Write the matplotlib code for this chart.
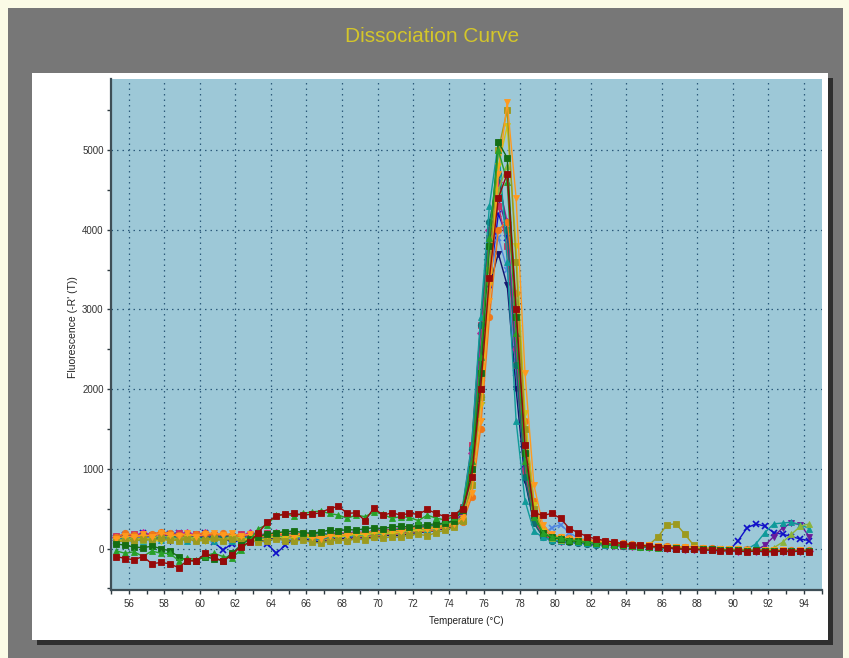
import matplotlib
matplotlib.use("Agg")
import matplotlib.pyplot as plt
from matplotlib.patches import Rectangle
from matplotlib.ticker import MultipleLocator

W, H = 849, 658

title = "Dissociation Curve"
x_label = "Temperature (°C)"
y_label = "Fluorescence (-R' (T))"

x_ticks = [56, 58, 60, 62, 64, 66, 68, 70, 72, 74, 76, 78, 80, 82, 84, 86, 88, 90, 92, 94]
y_ticks = [0, 1000, 2000, 3000, 4000, 5000]

temperature = [55.3, 55.8, 56.3, 56.8, 57.3, 57.8, 58.3, 58.8, 59.3, 59.8,
               60.3, 60.8, 61.3, 61.8, 62.3, 62.8, 63.3, 63.8, 64.3, 64.8,
               65.3, 65.8, 66.3, 66.8, 67.3, 67.8, 68.3, 68.8, 69.3, 69.8,
               70.3, 70.8, 71.3, 71.8, 72.3, 72.8, 73.3, 73.8, 74.3, 74.8,
               75.3, 75.8, 76.3, 76.8, 77.3, 77.8, 78.3, 78.8, 79.3, 79.8,
               80.3, 80.8, 81.3, 81.8, 82.3, 82.8, 83.3, 83.8, 84.3, 84.8,
               85.3, 85.8, 86.3, 86.8, 87.3, 87.8, 88.3, 88.8, 89.3, 89.8,
               90.3, 90.8, 91.3, 91.8, 92.3, 92.8, 93.3, 93.8, 94.3]

well_blue_x = [130,170,150,190,160,140,180,200,170,150,190,80,-20,60,120,150,130,60,-60,40,
               120,140,170,150,190,170,160,180,200,190,210,200,230,220,240,260,250,280,300,
               420,900,2000,3300,4200,3900,2400,1000,380,190,130,
               110,100,90,80,70,60,50,40,30,25,20,10,5,0,-5,-10,-10,-15,-20,-20,
               100,260,310,280,200,180,150,120,100]
well_lightblue_x = [100,130,110,150,120,140,110,130,150,120,140,110,130,100,120,140,110,130,150,120,
                    100,130,110,90,120,140,130,150,140,160,170,180,170,200,210,220,240,260,290,
                    420,1000,2300,3400,3900,3500,2200,900,330,180,260,
                    300,200,130,100,80,60,50,40,35,30,25,20,15,10,5,0,-5,-10,-10,-15,
                    -20,-20,-25,-20,-25,-30,-25,-30,-30]
well_navy = [90,120,100,140,110,130,100,120,140,110,130,100,120,90,110,130,100,120,140,110,
             90,120,100,80,110,130,120,140,130,150,160,170,160,190,200,210,230,250,280,
             400,1000,2200,3300,3700,3300,2000,850,320,160,110,
             90,80,70,60,55,50,40,35,30,25,20,15,10,5,0,-5,-10,-10,-15,-20,
             -20,-25,-20,-25,-30,-25,-30,-30,-25]
well_purple = [110,150,130,170,140,160,130,150,170,140,160,130,150,120,140,160,130,150,170,140,
               120,150,130,110,140,160,150,170,160,180,190,200,190,220,230,240,260,280,310,
               450,1100,2500,3800,4400,4000,2500,1000,380,180,120,
               100,90,80,70,60,50,45,40,35,30,25,20,15,10,5,0,-5,-10,-15,-20,
               -20,-25,-20,40,150,260,320,300,150]
well_magenta = [140,180,160,200,170,190,160,180,200,170,190,160,180,150,170,190,160,180,200,170,
                150,180,160,140,170,190,180,200,190,210,220,230,220,250,260,270,290,310,340,
                500,1200,2700,4000,4600,4100,2500,1000,360,170,120,
                100,90,80,70,60,55,50,40,35,30,25,20,10,5,0,-5,-10,-10,-15,-20,
                -25,-20,-25,-30,-25,-30,-30,-35,-30]
well_crimson = [160,140,180,150,170,140,160,190,160,180,150,170,140,160,180,150,170,190,160,180,
                200,170,190,160,180,200,190,210,200,220,230,240,250,260,280,270,290,320,350,
                520,1300,2800,3900,4300,3800,2300,950,350,170,120,
                100,90,80,70,60,50,40,35,30,25,20,15,10,5,0,-5,-10,-10,-15,-20,
                -20,-25,-25,-30,-25,-30,-30,-35,-30]
well_darkteal = [130,160,140,170,150,130,160,140,170,150,130,160,140,170,150,130,160,180,150,170,
                 190,160,180,200,170,190,180,200,190,210,220,230,240,250,260,280,290,310,340,
                 520,1250,2800,4100,4700,4000,2300,900,320,150,100,
                 90,80,70,60,50,45,40,35,30,25,20,15,10,5,0,-5,-10,-10,-15,-20,
                 -20,-25,-30,-25,-30,-35,-30,-35,-35]
well_darkorange = [150,190,170,140,180,210,190,170,150,180,200,170,190,160,150,120,140,160,180,150,
                   170,190,160,130,100,120,90,140,160,150,170,190,180,200,220,210,240,260,290,
                   330,650,1500,2900,4000,4100,3200,1600,600,250,160,
                   140,130,120,110,100,90,80,70,60,50,40,35,30,25,20,15,10,5,0,-5,
                   -10,-10,-15,-15,-20,-20,-15,-20,-20]
well_teal = [100,140,120,90,130,110,150,120,100,140,110,90,130,100,120,150,110,130,160,140,
             120,150,130,110,140,160,150,170,160,190,180,200,210,220,230,250,270,300,340,
             550,1300,2900,4300,5100,3600,1600,600,220,140,110,
             100,90,80,70,60,50,45,40,35,30,25,20,15,10,5,0,-5,-10,-15,-20,
             -20,-10,60,200,310,320,330,300,250]
well_olivegreen = [120,100,140,110,130,160,140,120,150,130,110,140,120,150,130,110,140,160,130,150,
                   170,140,160,180,150,170,160,190,180,200,190,210,230,220,250,260,280,300,330,
                   400,850,1900,3400,4500,4800,3100,1300,450,200,130,
                   110,100,90,80,70,60,50,40,35,30,25,20,15,10,5,0,-5,-10,-10,-15,
                   -20,-20,-25,-20,10,80,180,280,310]
well_yellow = [90,110,100,130,110,90,120,100,130,110,90,120,100,130,110,120,100,130,150,120,
               140,160,130,150,170,140,160,180,170,190,200,190,210,230,220,240,260,280,310,
               360,800,1800,3300,4800,5300,3800,1700,550,220,140,
               120,110,100,90,80,70,60,50,40,35,30,25,20,15,10,5,0,-5,-10,-10,
               -15,-20,-20,-25,-20,-25,-30,-25,-30]
well_olive = [80,100,90,120,100,130,110,100,120,90,110,130,100,120,90,110,80,100,120,100,
              90,110,80,70,90,110,100,120,110,140,130,150,140,170,180,160,200,230,270,
              350,800,1900,3500,5000,5500,3600,1500,500,200,140,
              120,100,90,80,70,60,50,40,30,30,50,150,300,310,180,40,0,-10,-15,-20,
              -20,-25,-20,-25,-30,-30,-25,-30,-30]
well_orange = [120,160,140,180,150,200,170,160,190,150,180,200,170,190,160,180,150,170,200,180,
               160,190,150,120,160,180,170,200,190,220,210,230,220,250,260,240,270,290,310,
               380,700,1600,3100,4700,5600,4400,2200,800,300,180,
               140,120,110,100,90,80,70,60,50,45,40,30,25,20,15,10,5,0,-5,-10,
               -10,-15,-20,-15,-20,-20,-25,-20,-25]
well_darkgreen = [60,40,20,10,30,0,-30,-100,-150,-150,-100,-130,-150,-60,40,120,150,180,200,210,
                  220,200,190,210,230,220,240,230,250,260,250,270,280,270,290,300,310,320,350,
                  480,1000,2200,3800,5100,4900,2900,1200,420,190,140,
                  120,100,90,80,70,60,50,40,35,30,20,15,10,5,0,-5,-10,-10,-15,-20,
                  -20,-25,-20,-25,-30,-30,-25,-30,-30]
well_green = [-30,-60,-40,-100,-30,-60,-60,-150,-120,-140,-90,-60,-100,-120,-20,100,250,300,420,430,
              410,440,460,470,440,420,380,420,400,460,430,380,400,390,350,420,380,360,400,
              520,1100,2400,3900,5000,4600,2700,1100,400,200,150,
              130,110,100,80,70,60,50,40,30,25,20,10,5,0,-5,-10,-10,-15,-20,-20,
              -20,-25,-30,-25,-30,-30,-25,-30,-30]
well_red = [-100,-125,-140,-100,-190,-175,-190,-240,-150,-160,-60,-110,-160,-80,25,80,200,330,410,430,
            440,420,430,450,500,530,440,450,350,510,415,450,420,440,430,490,440,400,420,
            500,900,2000,3400,4400,4700,3000,1300,450,415,440,
            380,250,200,150,120,100,80,60,50,40,30,20,10,0,-10,-10,-20,-20,-30,-30,
            -30,-40,-30,-40,-40,-30,-40,-30,-40]

series = [
    (well_blue_x, "#1010C8", "x"),
    (well_lightblue_x, "#4F86E0", "x"),
    (well_navy, "#14146E", "v"),
    (well_purple, "#6A1A9A", "v"),
    (well_magenta, "#C8189A", "D"),
    (well_crimson, "#C83264", "s"),
    (well_darkteal, "#0E6E6E", "o"),
    (well_darkorange, "#F07818", "o"),
    (well_teal, "#109A9A", "^"),
    (well_olivegreen, "#8CB43C", "^"),
    (well_yellow, "#D2C214", "v"),
    (well_olive, "#9C9A1E", "s"),
    (well_orange, "#FF9A1E", "v"),
    (well_darkgreen, "#146E14", "s"),
    (well_green, "#28A028", "^"),
    (well_red, "#960A0A", "s"),
]

fig = plt.figure(figsize=(W / 100, H / 100), dpi=100)
fig.patch.set_facecolor("#FBFBE6")


def px_rect(x0, y0, x1, y1, color, z):
    fig.add_artist(Rectangle((x0 / W, 1 - y1 / H), (x1 - x0) / W, (y1 - y0) / H,
                             transform=fig.transFigure, facecolor=color,
                             edgecolor="none", zorder=z))


px_rect(8, 8, 843, 658, "#777777", -10)
px_rect(37, 78, 833, 645, "#2E2E2E", -9)
px_rect(32, 73, 828, 640, "#FFFFFF", -8)

ax = fig.add_axes([111 / W, 1 - 590 / H, 710.7 / W, 511 / H])
ax.set_facecolor("#9DC8D7")
ax.set_zorder(1)

for vals, col, mk in series:
    hollow = False
    ax.plot(temperature, vals, color=col, lw=1.0, marker=mk,
            ms=4.6 if mk != "D" else 3.6,
            mew=1.2 if mk == "x" else 0.6,
            mec=col, mfc=col, clip_on=True)

ax.set_xlim(55, 95)
ax.set_ylim(-520, 5890)
ax.set_xticks(x_ticks)
ax.set_xticklabels([str(t) for t in x_ticks])
ax.set_yticks(y_ticks)
ax.set_yticklabels([str(t) for t in y_ticks])
ax.xaxis.set_minor_locator(MultipleLocator(1))
ax.yaxis.set_minor_locator(MultipleLocator(500))

ax.grid(which="major", linestyle=(0, (1.2, 3.2)), color="#2C5A7A", linewidth=0.9)
ax.set_axisbelow(True)

for s in ("top", "right"):
    ax.spines[s].set_visible(False)
for s in ("left", "bottom"):
    ax.spines[s].set_color("#3E4E56")
    ax.spines[s].set_linewidth(1.6)

ax.tick_params(which="both", direction="out", length=2.8, width=1.0, color="#2E3A40",
               labelsize=7, labelcolor="#333333", pad=2.5)
ax.tick_params(axis="x", which="both", pad=4)
for lbl in ax.get_xticklabels() + ax.get_yticklabels():
    lbl.set_fontfamily("Liberation Sans")

fig.text(432 / W, 1 - 36 / H, title, ha="center", va="center", fontsize=15,
         color="#D4C62A", family="Liberation Sans")
fig.text(466 / W, 1 - 621 / H, x_label, ha="center", va="center", fontsize=7,
         color="#222222", family="Liberation Sans")
fig.text(73 / W, 1 - 327 / H, y_label, ha="center", va="center", fontsize=7.5,
         rotation=90, color="#222222", family="Liberation Sans")

fig.savefig("out.png", dpi=100, facecolor=fig.get_facecolor())
